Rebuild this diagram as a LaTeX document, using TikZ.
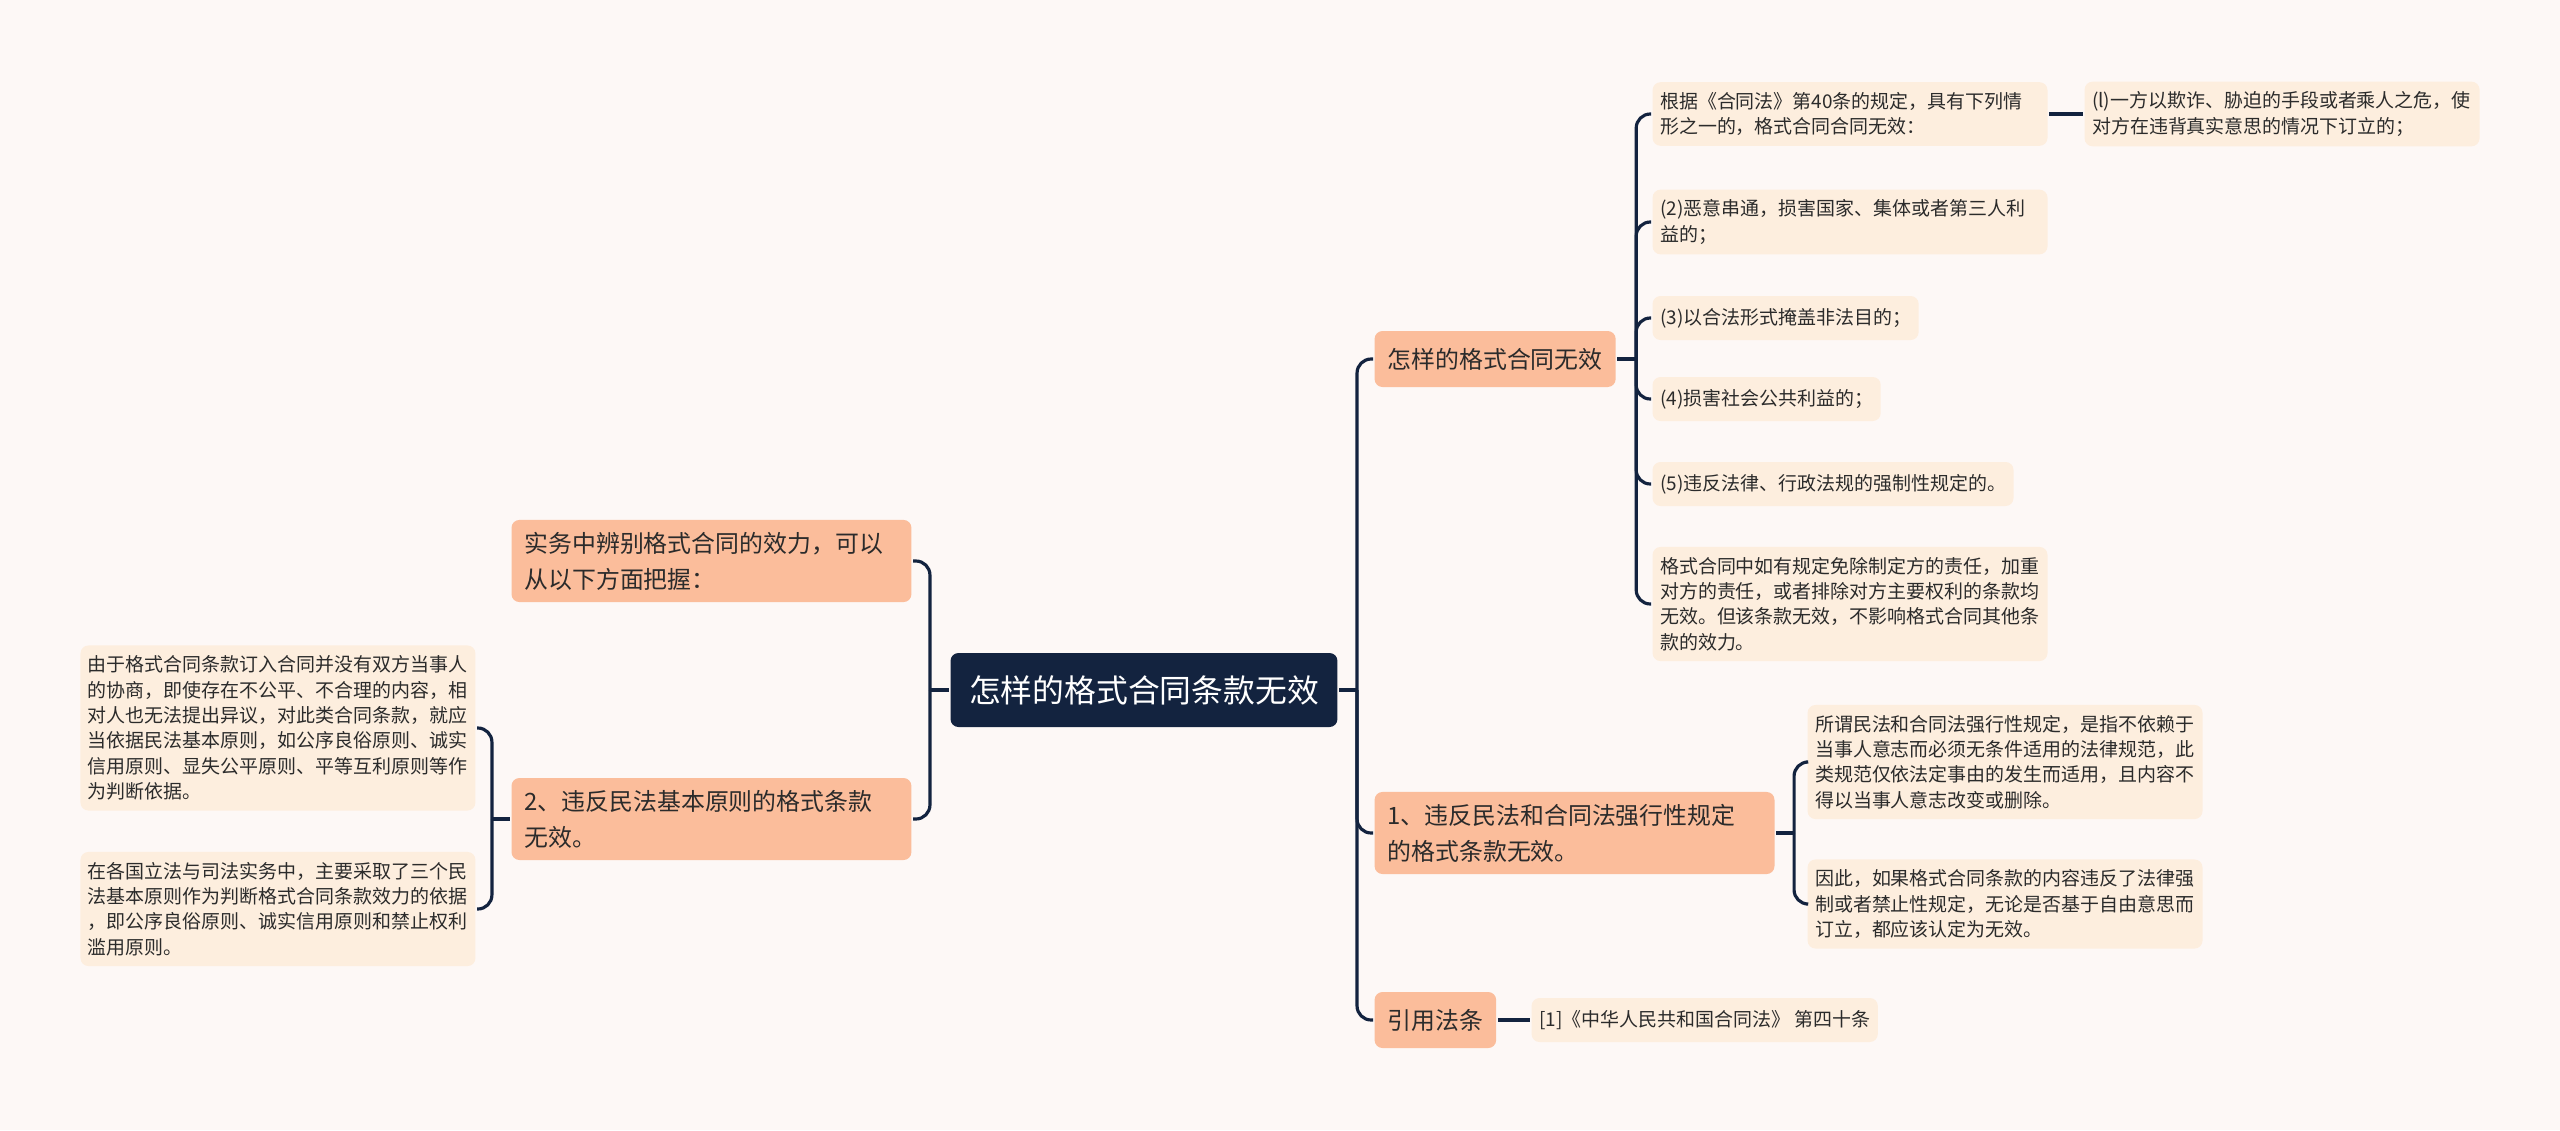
\documentclass[tikz,border=0pt]{standalone}
\usepackage{fontspec}
\setmainfont{Noto Sans CJK SC}
\usetikzlibrary{calc}
\definecolor{cbg}{HTML}{FDF8F6}
\definecolor{cnavy}{HTML}{13233F}
\definecolor{csalmon}{HTML}{FBBD9B}
\definecolor{ccream}{HTML}{FDEEDE}
\definecolor{ctext}{HTML}{2B2B2B}
\tikzset{
  every picture/.style={line width=1.8pt},
  root/.style={fill=cnavy, text=white, rounded corners=4.5pt, minimum width=7.74cm, minimum height=1.48cm,
    font=\fontsize{18.1pt}{22pt}\selectfont},
  topic/.style={fill=csalmon, text=ctext, rounded corners=4.5pt, align=left, inner xsep=0.26cm, inner ysep=0.24cm,
    minimum height=1.12cm, font=\fontsize{13.6pt}{20.4pt}\selectfont},
  leaf/.style={fill=ccream, text=ctext, rounded corners=4.5pt, align=left, inner xsep=0.15cm, inner ysep=0.2cm,
    minimum height=0.88cm, font=\fontsize{10.8pt}{14.5pt}\selectfont},
  link/.style={draw=cnavy, rounded corners=8pt},
}

\begin{document}
\begin{tikzpicture}[x=0.02cm, y=-0.02cm]
  \fill[cbg] (0,0) rectangle (2560,1130);
  \useasboundingbox (0,0) rectangle (2560,1130);

  \node[root] (root) at (1144,690) {怎样的格式合同条款无效};

  % right side
  \node[topic, anchor=west] (void) at (1373,359) {怎样的格式合同无效};
  \node[topic, anchor=west, text width=7.48cm] (rule1) at (1373,833) {1、违反民法和合同法强行性规定\\的格式条款无效。};
  \node[topic, anchor=west] (cite) at (1373,1020) {引用法条};

  \node[leaf, anchor=west, text width=7.6cm] (v1) at (1651,114) {根据《合同法》第40条的规定，具有下列情\\形之一的，格式合同合同无效：};
  \node[leaf, anchor=west, text width=7.6cm] (v1a) at (2083,114) {(l)一方以欺诈、胁迫的手段或者乘人之危，使\\对方在违背真实意思的情况下订立的；};
  \node[leaf, anchor=west, text width=7.6cm] (v2) at (1651,222) {(2)恶意串通，损害国家、集体或者第三人利\\益的；};
  \node[leaf, anchor=west] (v3) at (1651,318) {(3)以合法形式掩盖非法目的；};
  \node[leaf, anchor=west] (v4) at (1651,399) {(4)损害社会公共利益的；};
  \node[leaf, anchor=west] (v5) at (1651,484) {(5)违反法律、行政法规的强制性规定的。};
  \node[leaf, anchor=west, text width=7.6cm] (v6) at (1651,604) {格式合同中如有规定免除制定方的责任，加重\\对方的责任，或者排除对方主要权利的条款均\\无效。但该条款无效，不影响格式合同其他条\\款的效力。};

  \node[leaf, anchor=west, text width=7.6cm] (r1a) at (1806,762) {所谓民法和合同法强行性规定，是指不依赖于\\当事人意志而必须无条件适用的法律规范，此\\类规范仅依法定事由的发生而适用，且内容不\\得以当事人意志改变或删除。};
  \node[leaf, anchor=west, text width=7.6cm] (r1b) at (1806,904) {因此，如果格式合同条款的内容违反了法律强\\制或者禁止性规定，无论是否基于自由意思而\\订立，都应该认定为无效。};

  \node[leaf, anchor=west] (law) at (1530,1020) {[1]《中华人民共和国合同法》 第四十条};

  % left side
  \node[topic, anchor=east, text width=7.48cm] (prac) at (913,561) {实务中辨别格式合同的效力，可以\\从以下方面把握：};
  \node[topic, anchor=east, text width=7.48cm] (rule2) at (913,819) {2、违反民法基本原则的格式条款\\无效。};

  \node[leaf, anchor=east, text width=7.6cm] (p1) at (477,728) {由于格式合同条款订入合同并没有双方当事人\\的协商，即使存在不公平、不合理的内容，相\\对人也无法提出异议，对此类合同条款，就应\\当依据民法基本原则，如公序良俗原则、诚实\\信用原则、显失公平原则、平等互利原则等作\\为判断依据。};
  \node[leaf, anchor=east, text width=7.6cm] (p2) at (477,909) {在各国立法与司法实务中，主要采取了三个民\\法基本原则作为判断格式合同条款效力的依据\\，即公序良俗原则、诚实信用原则和禁止权利\\滥用原则。};

  % connectors
  \coordinate (rj) at ($(root.east)+(18,0)$);
  \coordinate (lj) at ($(root.west)+(-19,0)$);
  \coordinate (vj) at ($(void.east)+(19,0)$);
  \coordinate (aj) at ($(rule1.east)+(18,0)$);
  \coordinate (bj) at ($(rule2.west)+(-18,0)$);
  \draw[link] (root.east) -- (rj);
  \draw[link] (root.west) -- (lj);
  \draw[link] (void.east) -- (vj);
  \draw[link] (rule1.east) -- (aj);
  \draw[link] (rule2.west) -- (bj);
  \foreach \c in {void, rule1, cite} \draw[link] (rj) |- (\c.west);
  \foreach \c in {prac, rule2} \draw[link] (lj) |- (\c.east);
  \foreach \c in {v1, v2, v3, v4, v5, v6} \draw[link] (vj) |- (\c.west);
  \foreach \c in {r1a, r1b} \draw[link] (aj) |- (\c.west);
  \foreach \c in {p1, p2} \draw[link] (bj) |- (\c.east);
  \draw[link] (v1.east) -- (v1a.west);
  \draw[link] (cite.east) -- (law.west);
\end{tikzpicture}
\end{document}
